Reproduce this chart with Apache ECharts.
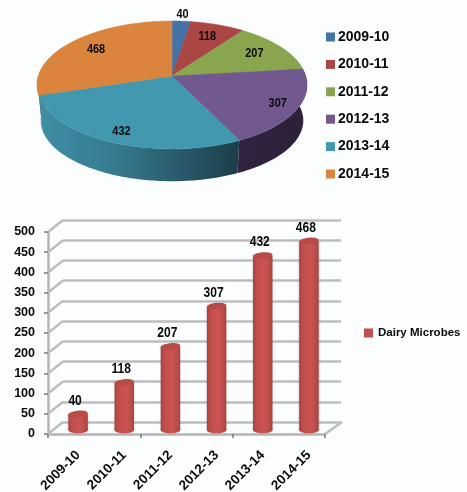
<!DOCTYPE html>
<html>
<head>
<meta charset="utf-8">
<style>
  html, body { margin: 0; padding: 0; background: #fcfdff; }
  #chart { width: 467px; height: 492px; }
</style>
<script src="https://cdn.jsdelivr.net/npm/echarts@6/dist/echarts.min.js"></script>
</head>
<body>
<div id="chart"></div>
<script>
var categories = ["2009-10", "2010-11", "2011-12", "2012-13", "2013-14", "2014-15"];
var values = [40, 118, 207, 307, 432, 468];
var yTicks = [0, 50, 100, 150, 200, 250, 300, 350, 400, 450, 500];
var barSeriesName = "Dairy Microbes";

var FONT = '"Liberation Sans", Arial, sans-serif';
var pieColors = ["#4572a7", "#aa4643", "#89a54e", "#71588f", "#4198af", "#db843d"];
var total = values.reduce(function (a, b) { return a + b; }, 0);

// pie is a tilted disc, so points go through a small perspective projection
function project(deg, r, bottom) {
  var t = (deg * Math.PI) / 180;
  var u = Math.sin(t) * r;
  var v = Math.cos(t) * r;
  var d = 1 + 0.14 * v;
  if (bottom) {
    return [172 + (130 * u) / d, 112 - (59.5 * v) / d];
  }
  return [172 + (133.7 * u) / d, 76 - (62.7 * v) / d];
}

function sliceAngles(i) {
  var before = 0;
  for (var k = 0; k < i; k++) before += values[k];
  return [(before / total) * 360, ((before + values[i]) / total) * 360];
}

function sliceTop(params, api) {
  var i = params.seriesIndex - 6;
  var a = sliceAngles(i);
  var pts = [project(0, 0)];
  for (var d = a[0]; d < a[1]; d += 1) pts.push(project(d, 1));
  pts.push(project(a[1], 1));
  var mid = (a[0] + a[1]) / 2;
  var small = a[1] - a[0] < 15;
  var lr = small ? 1.15 : mid > 90 && mid < 270 ? 0.85 : 0.75;
  var lp = project(mid, lr);
  return {
    type: "group",
    children: [
      {
        type: "polygon",
        shape: { points: pts },
        style: { fill: pieColors[i], stroke: pieColors[i], lineWidth: 0.5 },
      },
      {
        type: "text",
        x: lp[0],
        y: lp[1],
        scaleX: 0.84,
        z2: 10,
        style: {
          text: String(api.value(0)),
          fill: "#0a0a0a",
          font: "bold 13px " + FONT,
          align: "center",
          verticalAlign: "middle",
        },
      },
    ],
  };
}

var wallFill = [
  ["#2a4a5e", "#2a4a5e"],
  ["#6e2c2a", "#6e2c2a"],
  ["#566a30", "#566a30"],
  ["#2f2340", "#2d2138"],
  ["#1c3f4c", "#3f8ea4"],
  ["#3f8ea4", "#9a6a45"],
];

function sliceWall(i) {
  var a = sliceAngles(i);
  var from = Math.max(a[0], 60);
  var to = Math.min(a[1], 300);
  if (to <= from) return null;
  var up = [];
  var down = [];
  for (var d = from; d < to; d += 1) {
    up.push(project(d, 1));
    down.push(project(d, 1, true));
  }
  up.push(project(to, 1));
  down.push(project(to, 1, true));
  var grad;
  if (i === 4) {
    grad = new echarts.graphic.LinearGradient(0, 0, 1, 0, [
      { offset: 0, color: "#3f8ea4" },
      { offset: 0.35, color: "#367d92" },
      { offset: 0.7, color: "#2a5a6b" },
      { offset: 1, color: "#1b3e49" },
    ]);
  } else {
    grad = new echarts.graphic.LinearGradient(0, 0, 1, 0, [
      { offset: 0, color: wallFill[i][0] },
      { offset: 1, color: wallFill[i][1] },
    ]);
  }
  return {
    type: "polygon",
    shape: { points: up.concat(down.reverse()) },
    style: { fill: grad },
  };
}

// slanted side pieces of the fake 3d box
function boxEdges(params, api) {
  var cs = params.coordSys;
  var y = api.coord([0, api.value(0)])[1];
  var lines = [
    {
      type: "line",
      shape: { x1: cs.x, y1: y, x2: cs.x + 15, y2: y - 12 },
      style: { stroke: "#bdbdbd", lineWidth: 2.5 },
    },
  ];
  if (api.value(0) === 0) {
    lines.push({
      type: "line",
      shape: { x1: cs.x + cs.width, y1: y, x2: cs.x + cs.width + 17, y2: y - 12 },
      style: { stroke: "#bdbdbd", lineWidth: 2.5 },
    });
  }
  return { type: "group", children: lines };
}

function cylinder(params, api) {
  var top = api.coord([api.value(0), api.value(1)]);
  var base = api.coord([api.value(0), 0]);
  var rx = 9.7;
  var ry = 3.2;
  var side = new echarts.graphic.LinearGradient(0, 0, 1, 0, [
    { offset: 0, color: "#a8413f" },
    { offset: 0.2, color: "#c24e4b" },
    { offset: 0.6, color: "#cb5451" },
    { offset: 0.9, color: "#b84a47" },
    { offset: 1, color: "#a03e3c" },
  ]);
  return {
    type: "group",
    children: [
      {
        type: "ellipse",
        shape: { cx: base[0], cy: base[1], rx: rx, ry: ry },
        style: { fill: side, shadowBlur: 2, shadowColor: "rgba(90,90,90,0.4)" },
      },
      {
        type: "rect",
        shape: { x: base[0] - rx, y: top[1], width: rx * 2, height: base[1] - top[1] },
        style: { fill: side, shadowBlur: 2, shadowColor: "rgba(90,90,90,0.4)" },
      },
      {
        type: "ellipse",
        x: top[0],
        y: top[1],
        rotation: 0.1,
        shape: { cx: 0, cy: 0, rx: rx, ry: ry },
        style: { fill: "#b84a47" },
      },
      {
        type: "text",
        x: top[0] - 3,
        y: top[1] - 6,
        scaleX: 0.86,
        style: {
          text: String(api.value(1)),
          fill: "#0a0a0a",
          font: "bold 14px " + FONT,
          align: "center",
          verticalAlign: "bottom",
        },
      },
    ],
  };
}

var myChart = echarts.init(document.getElementById("chart"), null, { renderer: "canvas" });

var wallSeries = categories.map(function (name, i) {
  return {
    type: "custom",
    coordinateSystem: "none",
    silent: true,
    z: 2,
    data: [values[i]],
    renderItem: function () {
      return sliceWall(i);
    },
  };
});

var topSeries = categories.map(function (name, i) {
  return {
    type: "custom",
    name: name,
    coordinateSystem: "none",
    z: 3,
    itemStyle: { color: pieColors[i] },
    data: [values[i]],
    renderItem: sliceTop,
  };
});

var option = {
  animation: false,
  backgroundColor: "#fcfdff",
  legend: [
    {
      orient: "vertical",
      left: 321,
      top: 25,
      itemWidth: 9,
      itemHeight: 9,
      itemGap: 13.4,
      icon: "rect",
      data: categories,
      textStyle: { fontFamily: FONT, fontWeight: "bold", fontSize: 14, color: "#0a0a0a", padding: [0, 0, 0, -2] },
    },
    {
      orient: "vertical",
      left: 359,
      top: 322,
      itemWidth: 9,
      itemHeight: 9,
      icon: "rect",
      data: [barSeriesName],
      textStyle: { fontFamily: FONT, fontWeight: "bold", fontSize: 11.5, color: "#0a0a0a" },
    },
  ],
  grid: [
    { left: 63, top: 220, width: 278, height: 202, outerBoundsMode: "none" },
    { left: 48, top: 232, width: 277, height: 202, outerBoundsMode: "none" },
    { left: 55, top: 228, width: 277, height: 202, outerBoundsMode: "none" },
  ],
  xAxis: [
    { gridIndex: 0, type: "category", data: categories, show: false },
    {
      gridIndex: 1,
      type: "category",
      data: categories,
      axisLine: { lineStyle: { color: "#b5b5b5", width: 2.5 } },
      axisTick: { show: true, length: 4, lineStyle: { color: "#777", width: 1.5 } },
      axisLabel: { show: false },
    },
    {
      gridIndex: 2,
      type: "category",
      data: categories,
      axisLine: { show: false },
      axisTick: { show: false },
      axisLabel: {
        interval: 0,
        rotate: 45,
        margin: 23,
        fontFamily: FONT,
        fontWeight: "bold",
        fontSize: 13.5,
        color: "#0a0a0a",
      },
    },
  ],
  yAxis: [
    {
      gridIndex: 0,
      type: "value",
      min: 0,
      max: 500,
      interval: 50,
      axisLabel: { show: false },
      axisLine: { show: false },
      axisTick: { show: false },
      splitLine: { show: true, lineStyle: { color: "#bdbdbd", width: 2.5 } },
    },
    {
      gridIndex: 1,
      type: "value",
      min: yTicks[0],
      max: yTicks[yTicks.length - 1],
      interval: 50,
      axisLine: { show: true, lineStyle: { color: "#b5b5b5", width: 2.5 } },
      axisTick: { show: true, length: 4, lineStyle: { color: "#777", width: 1.5 } },
      splitLine: { show: false },
      axisLabel: {
        margin: 13,
        fontFamily: FONT,
        fontWeight: "bold",
        fontSize: 12.5,
        color: "#0a0a0a",
      },
    },
    { gridIndex: 2, type: "value", min: 0, max: 500, show: false, splitLine: { show: false } },
  ],
  series: wallSeries.concat(topSeries).concat([
    {
      type: "custom",
      coordinateSystem: "cartesian2d",
      xAxisIndex: 1,
      yAxisIndex: 1,
      silent: true,
      z: 1,
      data: yTicks.map(function (v) { return [v]; }),
      encode: { y: 0 },
      renderItem: boxEdges,
    },
    {
      name: barSeriesName,
      type: "custom",
      coordinateSystem: "cartesian2d",
      xAxisIndex: 2,
      yAxisIndex: 2,
      z: 5,
      itemStyle: { color: "#c0504d" },
      data: values.map(function (v, i) { return [i, v]; }),
      encode: { x: 0, y: 1 },
      renderItem: cylinder,
    },
  ]),
};

myChart.setOption(option);
</script>
</body>
</html>
